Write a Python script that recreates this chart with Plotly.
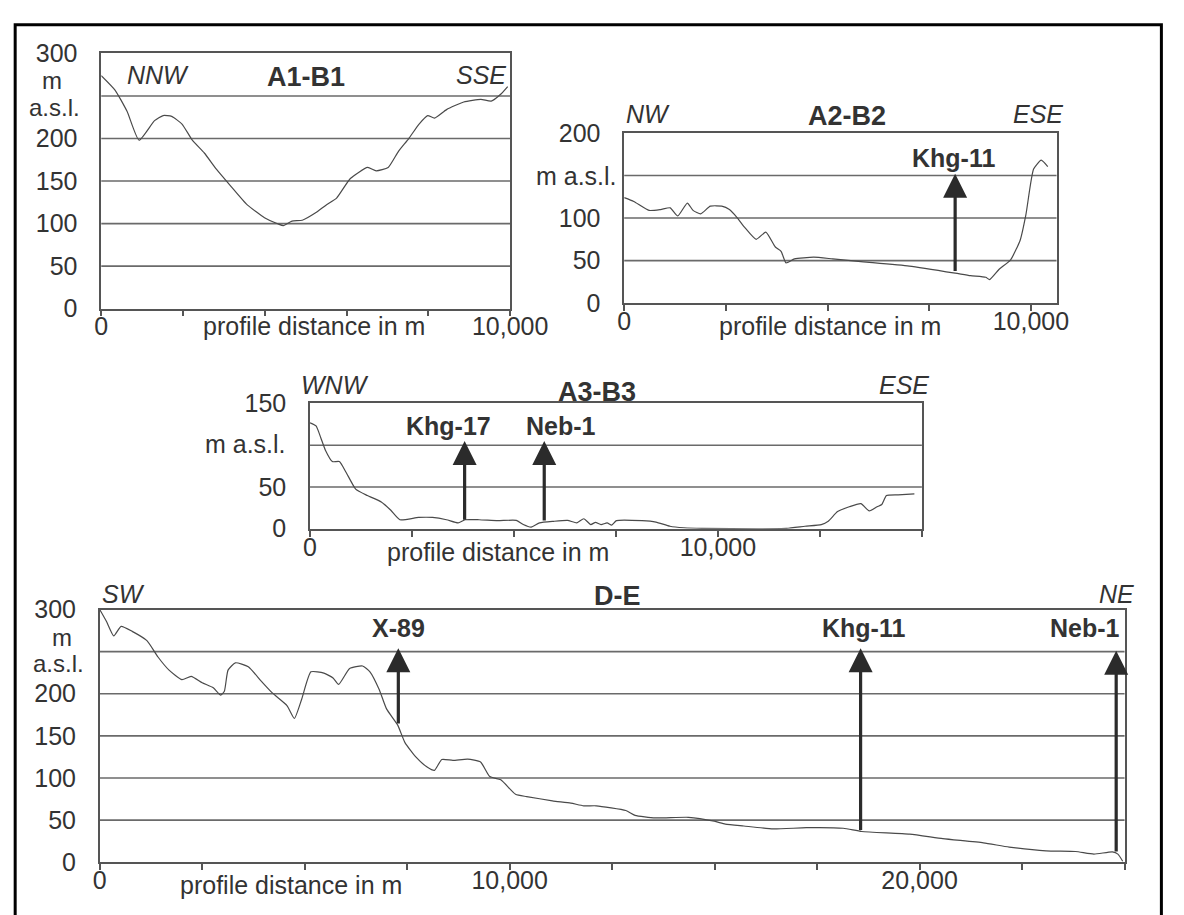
import plotly.graph_objects as go

# ---------------- data ----------------
a1_dist = [0, 336, 630, 924, 1303, 1513, 1723, 1975, 2227, 2521, 2815, 3151, 3571, 3992, 4328, 4454,
           4664, 4916, 5252, 5504, 5756, 6092, 6513, 6723, 7017, 7269, 7521, 7773, 7983, 8151, 8445,
           8866, 9286, 9538, 9790, 9941]
a1_elev = [274, 257, 232, 198, 221, 227, 226, 217, 198, 183, 164, 145, 122, 107, 99.5, 97.6,
           103, 104, 113, 122, 130, 153, 166, 162, 166, 185, 200, 217, 227, 224, 234,
           243, 246, 244, 253, 261]

a2_dist = [0, 235, 611, 894, 1129, 1317, 1552, 1693, 1881, 2117, 2399, 2587, 2775, 2963, 3245, 3481,
           3716, 3857, 3979, 4186, 4657, 5127, 5880, 7008, 8137, 8514, 8890, 8984, 9219, 9501, 9736,
           9877, 10066, 10254, 10414]
a2_elev = [124, 119.5, 109, 110, 112, 102.5, 117.6, 109, 105, 114, 114, 110, 100.6, 89, 75, 83.5,
           66, 61, 47.4, 52, 54, 52, 48.6, 43.6, 35.3, 32.3, 30.4, 27.7, 39.8, 51, 74,
           104, 157.5, 168, 160.5]

a3_dist = [0, 148, 263, 377, 548, 719, 890, 1119, 1404, 1747, 1975, 2203, 2660, 3002, 3345, 3630,
           3801, 4144, 4600, 5057, 5228, 5422, 5628, 5970, 6313, 6541, 6712, 6883, 6998, 7135, 7283,
           7397, 7511, 8139, 8481, 8824, 9167, 9623, 10993, 11678, 12135, 12534, 12705, 12934, 13219,
           13505, 13710, 13904, 14018, 14132, 14418, 14817]
a3_elev = [126.8, 123, 109, 94, 80.4, 80.4, 67, 47.5, 39.8, 32, 22.4, 10.8, 13.5, 13.5, 10.8, 7,
           10.8, 10.8, 9.7, 10, 5, 1.9, 7, 8.9, 10, 7, 12, 5, 7.7, 5, 7,
           4.3, 9.7, 9.7, 8, 3, 1.2, 0.4, 0, 0.4, 3, 5, 9, 20.5, 26.3,
           30, 21.3, 26.3, 29, 39.8, 40.6, 41.8]

de_dist = [0, 162, 342, 522, 791, 1151, 1421, 1691, 2005, 2230, 2500, 2770, 2950, 3040, 3130, 3309,
           3624, 3939, 4209, 4568, 4748, 4928, 5153, 5468, 5692, 5827, 6097, 6412, 6592, 6817, 6996,
           7266, 7446, 7716, 7986, 8165, 8345, 8615, 8975, 9290, 9514, 9784, 10144, 10414, 11043,
           11493, 11808, 12113, 12833, 13058, 13552, 14362, 14991, 15261, 15711, 16430, 17239, 18138,
           18588, 19757, 20567, 21556, 22185, 23085, 23804, 24253, 24703, 24838, 24955]
de_elev = [300, 286, 268.6, 280, 274, 263, 243.6, 228, 216.8, 220.6, 213, 207, 198.4, 203, 228, 236.7,
           232, 215, 201, 186, 170.7, 193.8, 226, 224.5, 218.7, 211, 230, 232.9, 226, 205, 182,
           163, 142, 124.7, 113, 109, 122, 120.9, 122.4, 119, 101.7, 97.8, 80.6, 77.9, 72.9,
           70.2, 67, 67, 61.4, 55.6, 52.6, 53.3, 48.7, 45.3, 43, 39.5, 41, 40.3,
           36.5, 33.4, 28, 23, 18, 13.4, 12.7, 9.6, 12.3, 9.6, 1.2]

# wells: name, distance, base elevation, arrow tip elevation, label x, label y
a2_wells = ["Khg-11"]
a2_well_x = [8137]
a2_well_base = [36]
a2_well_top = [152]
a2_label_x = [8090]
a2_label_y = [170]

a3_wells = ["Khg-17", "Neb-1"]
a3_well_x = [3790, 5742]
a3_well_base = [9, 8]
a3_well_top = [105, 105]
a3_label_x = [3402, 6164]
a3_label_y = [123, 123]

de_wells = ["X-89", "Khg-11", "Neb-1"]
de_well_x = [7284, 18561, 24796]
de_well_base = [163, 36.5, 11]
de_well_top = [254, 254, 251]
de_label_x = [7284, 18633, 24038]
de_label_y = [278, 278, 278]

# ---------------- layout helpers ----------------
W, H = 1184, 915
def fx(p):
    return p / W
def fy(p):
    return 1 - p / H

FONT = "Liberation Sans, Arial, sans-serif"
TXT = "#333333"
GRID = "#6a6a6a"
LINE = "#555555"

fig = go.Figure()

panels = [
    dict(dist=a1_dist, elev=a1_elev, xdom=(98, 523), ydom=(304, 40.7), xr=(0, 10000), yr=(0, 300),
         xticks=[0, 2000, 4000, 6000, 8000, 10000], xlabels=["0", "", "", "", "", "10,000"],
         yticks=[0, 50, 100, 150, 200, 300], ylabels=["0", "50", "100", "150", "200", "300"],
         grid=[50, 100, 150, 200, 250]),
    dict(dist=a2_dist, elev=a2_elev, xdom=(641.6, 1091), ydom=(298.3, 122.7), xr=(0, 10630), yr=(0, 200),
         xticks=[0, 2500, 5000, 7500, 10000], xlabels=["0", "", "", "", "10,000"],
         yticks=[0, 50, 100, 200], ylabels=["0", "50", "100", "200"],
         grid=[50, 100, 150]),
    dict(dist=a3_dist, elev=a3_elev, xdom=(315, 951), ydom=(531, 401.7), xr=(0, 15000), yr=(0, 150),
         xticks=[0, 2500, 5000, 7500, 10000, 12500, 15000], xlabels=["0", "", "", "", "10,000", "", ""],
         yticks=[0, 50, 150], ylabels=["0", "50", "150"],
         grid=[50, 100]),
    dict(dist=de_dist, elev=de_elev, xdom=(96.4, 1161.7), ydom=(875, 614.3), xr=(0, 25000), yr=(0, 300),
         xticks=[0, 2500, 5000, 7500, 10000, 12500, 15000, 17500, 20000, 22500, 25000],
         xlabels=["0", "", "", "", "10,000", "", "", "", "20,000", "", ""],
         yticks=[0, 50, 100, 150, 200, 300], ylabels=["0", "50", "100", "150", "200", "300"],
         grid=[50, 100, 150, 200, 250]),
]

layout_axes = {}
for i, p in enumerate(panels):
    sfx = "" if i == 0 else str(i + 1)
    xa, ya = "x" + sfx, "y" + sfx
    fig.add_trace(go.Scatter(x=p["dist"], y=p["elev"], mode="lines",
                             line=dict(color="#4a4a4a", width=1.2, shape="spline", smoothing=0.5),
                             xaxis=xa, yaxis=ya, hoverinfo="skip"))
    layout_axes["xaxis" + sfx] = dict(
        domain=[fx(p["xdom"][0]), fx(p["xdom"][1])], range=list(p["xr"]), anchor=ya,
        showgrid=False, zeroline=False, showline=True, linecolor=LINE, linewidth=1.5, mirror=True,
        ticks="outside", ticklen=6, tickwidth=1.5, tickcolor=LINE,
        tickvals=p["xticks"], ticktext=p["xlabels"], ticklabelstandoff=-11,
        tickfont=dict(family=FONT, size=25, color=TXT))
    layout_axes["yaxis" + sfx] = dict(
        domain=[fy(p["ydom"][0]), fy(p["ydom"][1])], range=list(p["yr"]), anchor=xa,
        showgrid=False, zeroline=False, showline=True, linecolor=LINE, linewidth=1.5, mirror=True,
        ticks="", tickvals=p["yticks"], ticktext=p["ylabels"], ticklabelstandoff=17,
        tickfont=dict(family=FONT, size=25, color=TXT))
    for g in p["grid"]:
        fig.add_shape(type="line", xref=xa + " domain", yref=ya, x0=0, x1=1, y0=g, y1=g,
                      line=dict(color=GRID, width=1.6), layer="below")

fig.update_layout(**layout_axes)

ann = []
def txt(x, y, s, size=25, bold=False, italic=False, xanchor="center"):
    if bold:
        s = "<b>" + s + "</b>"
    if italic:
        s = "<i>" + s + "</i>"
    ann.append(dict(x=fx(x), y=fy(y), xref="paper", yref="paper", text=s, showarrow=False,
                    xanchor=xanchor, yanchor="middle", align="center",
                    font=dict(family=FONT, size=size, color=TXT)))

# panel titles and directions
txt(123, 63, "NNW", italic=True, xanchor="left")
txt(311, 65, "A1-B1", size=27, bold=True)
txt(521, 63, "SSE", italic=True, xanchor="right")
txt(641, 103, "NW", italic=True, xanchor="left")
txt(873, 105, "A2-B2", size=27, bold=True)
txt(1100, 103, "ESE", italic=True, xanchor="right")
txt(304, 383, "WNW", italic=True, xanchor="left")
txt(613, 390, "A3-B3", size=27, bold=True)
txt(960, 383, "ESE", italic=True, xanchor="right")
txt(97, 598, "SW", italic=True, xanchor="left")
txt(635, 600, "D-E", size=27, bold=True)
txt(1174, 598, "NE", italic=True, xanchor="right")

# axis titles
txt(319, 322, "profile distance in m")
txt(856, 322, "profile distance in m")
txt(510, 555, "profile distance in m")
txt(295, 898, "profile distance in m")
txt(47, 69, "m", size=24)
txt(49, 96, "a.s.l.", size=24)
txt(592, 167, "m a.s.l.")
txt(248, 444, "m a.s.l.")
txt(57, 643, "m", size=24)
txt(54, 670, "a.s.l.", size=24)

for (names, xs, bases, tops, lx, ly, sfx) in [
        (a2_wells, a2_well_x, a2_well_base, a2_well_top, a2_label_x, a2_label_y, "2"),
        (a3_wells, a3_well_x, a3_well_base, a3_well_top, a3_label_x, a3_label_y, "3"),
        (de_wells, de_well_x, de_well_base, de_well_top, de_label_x, de_label_y, "4")]:
    for n, x, b, t, tx, ty in zip(names, xs, bases, tops, lx, ly):
        ann.append(dict(x=x, y=t, ax=x, ay=b, xref="x" + sfx, yref="y" + sfx,
                        axref="x" + sfx, ayref="y" + sfx, text="", showarrow=True,
                        arrowhead=2, arrowsize=1.5, arrowwidth=3.2, arrowcolor="#2b2b2b",
                        standoff=0, startstandoff=0))
        ann.append(dict(x=tx, y=ty, xref="x" + sfx, yref="y" + sfx, text="<b>" + n + "</b>",
                        showarrow=False, xanchor="center", yanchor="middle",
                        font=dict(family=FONT, size=25, color=TXT)))

fig.update_layout(annotations=ann)

# outer frame (only top/left visible in the picture)
fig.add_shape(type="rect", xref="paper", yref="paper", x0=fx(8.5), x1=fx(1200), y0=fy(940), y1=fy(11),
              line=dict(color="black", width=3))

fig.update_layout(width=W, height=H, margin=dict(l=0, r=0, t=0, b=0),
                  paper_bgcolor="white", plot_bgcolor="white", showlegend=False)

fig.write_html("out.html")
